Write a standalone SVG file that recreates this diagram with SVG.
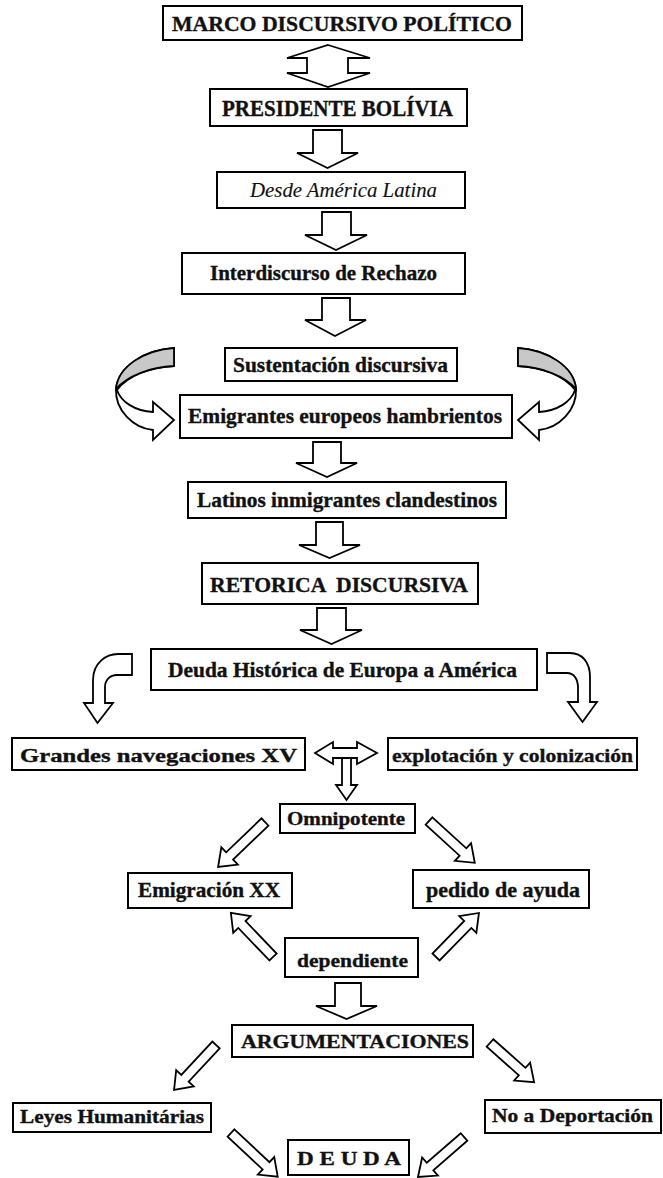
<svg xmlns="http://www.w3.org/2000/svg" width="663" height="1178" viewBox="0 0 663 1178">
<style>
.box{fill:#fff;stroke:#000;stroke-width:2}
.arr{fill:#fff;stroke:#000;stroke-width:1.8;stroke-linejoin:miter}
.gray{fill:#c8c8c8;stroke:#000;stroke-width:1.8}
text{font-family:"Liberation Serif","Times New Roman",serif;font-weight:bold;fill:#111;stroke:#111;stroke-width:0.35;text-anchor:middle}
.it{font-style:italic;font-weight:normal;stroke-width:0.1}
</style>
<rect width="663" height="1178" fill="#fff"/>
<g id="connectors">
<path class="arr" d="M328,45 L370,58 H348 V73 H370 L328,87 L287,73 H307 V58 H287 Z"/>
<path class="arr" d="M313,130 H342 V153 H358 L327.5,168 L297,153 H313 Z"/>
<path class="arr" d="M322,212 H351 V235 H367 L336,250 L305,235 H322 Z"/>
<path class="arr" d="M322,298 H350 V320 H366 L335,336 L305,320 H322 Z"/>
<g id="curve-left">
<path class="arr" d="M174,348 C145,350 118,366 116,389 C115,410 133,428 153,430 L153,440 L174,420 L153,402 L153,412 C135,411 121,402 117,390 C127,376 150,367 174,366 Z"/>
<path class="gray" d="M174,348 C145,350 118,366 116,389 C127,376 150,367 174,366 Z"/>
</g>
<g id="curve-right" transform="translate(692,0) scale(-1,1)">
<path class="arr" d="M174,348 C145,350 118,366 116,389 C115,410 133,428 153,430 L153,440 L174,420 L153,402 L153,412 C135,411 121,402 117,390 C127,376 150,367 174,366 Z"/>
<path class="gray" d="M174,348 C145,350 118,366 116,389 C127,376 150,367 174,366 Z"/>
</g>
<path class="arr" d="M313,442 H341 V463 H357 L327,477 L296,463 H313 Z"/>
<path class="arr" d="M316,522 H343 V545 H360 L329.5,558 L299,545 H316 Z"/>
<path class="arr" d="M317,608 H346 V630 H362 L331.5,644 L300,630 H317 Z"/>
<path class="arr" d="M132,654 L118,654 C106,654 93,663 93,680 L93,703 L84,703 L97.5,723 L113,703 L105,703 L105,687 C105,680 110,675 117,675 L132,675 Z"/>
<path class="arr" d="M547,653 L570,653 C582,653 590,662 590,677 L590,702 L597,702 L582.5,722 L568,702 L578,702 L578,688 C578,679 574,673 567,673 L547,673 Z"/>
<path class="arr" d="M342,756 H351 V785 H357 L346.5,800 L336,785 H342 Z"/>
<path class="arr" d="M315,753 L333,742 V748 H357 V742 L377,753 L357,764 V758 H333 V764 Z"/>
<path class="arr" transform="translate(265,822) rotate(136.2)" d="M0,-5 H49 V-12 L65,0 L49,12 V5 H0 Z"/>
<path class="arr" transform="translate(429,821) rotate(42.4)" d="M0,-5 H46 V-12 L62,0 L46,12 V5 H0 Z"/>
<path class="arr" transform="translate(273,957) rotate(-133.7)" d="M0,-5 H45 V-12 L61,0 L45,12 V5 H0 Z"/>
<path class="arr" transform="translate(436,957) rotate(-45.7)" d="M0,-5 H45.5 V-12 L61.5,0 L45.5,12 V5 H0 Z"/>
<path class="arr" d="M335,983 H361 V1006 H377 L346.5,1019 L316,1006 H335 Z"/>
<path class="arr" transform="translate(216,1045) rotate(133)" d="M0,-5 H45.5 V-12 L61.5,0 L45.5,12 V5 H0 Z"/>
<path class="arr" transform="translate(490,1043) rotate(41.6)" d="M0,-5 H43 V-12 L59,0 L43,12 V5 H0 Z"/>
<path class="arr" transform="translate(231,1133) rotate(43.1)" d="M0,-5 H48 V-12 L64,0 L48,12 V5 H0 Z"/>
<path class="arr" transform="translate(464,1137) rotate(139)" d="M0,-5 H45 V-12 L61,0 L45,12 V5 H0 Z"/>
</g>
<g id="n-marco"><rect class="box" x="163" y="6" width="359" height="34"/><text x="342" y="31" font-size="22" textLength="340" lengthAdjust="spacingAndGlyphs">MARCO DISCURSIVO POLÍTICO</text></g>
<g id="n-presidente"><rect class="box" x="210" y="89" width="257" height="37"/><text x="337.5" y="115.5" font-size="22.5" textLength="231" lengthAdjust="spacingAndGlyphs">PRESIDENTE BOLÍVIA</text></g>
<g id="n-desde"><rect class="box" x="217" y="172" width="248" height="36"/><text class="it" x="343.5" y="197" font-size="20" textLength="187" lengthAdjust="spacingAndGlyphs">Desde América Latina</text></g>
<g id="n-interdiscurso"><rect class="box" x="182" y="253" width="283" height="41"/><text x="323.5" y="280" font-size="21" textLength="227" lengthAdjust="spacingAndGlyphs">Interdiscurso de Rechazo</text></g>
<g id="n-sustentacion"><rect class="box" x="225" y="348" width="232" height="33"/><text x="340.5" y="372" font-size="21" textLength="215" lengthAdjust="spacingAndGlyphs">Sustentación discursiva</text></g>
<g id="n-emigrantes"><rect class="box" x="180" y="395" width="332" height="43"/><text x="345" y="423" font-size="22" textLength="314" lengthAdjust="spacingAndGlyphs">Emigrantes europeos hambrientos</text></g>
<g id="n-latinos"><rect class="box" x="188" y="482" width="318" height="36"/><text x="347" y="507" font-size="21" textLength="300" lengthAdjust="spacingAndGlyphs">Latinos inmigrantes clandestinos</text></g>
<g id="n-retorica"><rect class="box" x="202" y="563" width="276" height="41"/><text x="339" y="592" font-size="22" textLength="258" lengthAdjust="spacingAndGlyphs" xml:space="preserve">RETORICA  DISCURSIVA</text></g>
<g id="n-deuda-historica"><rect class="box" x="151" y="649" width="386" height="41"/><text x="342.5" y="677" font-size="20" textLength="349" lengthAdjust="spacingAndGlyphs">Deuda Histórica de Europa a América</text></g>
<g id="n-grandes"><rect class="box" x="12" y="738" width="293" height="32"/><text x="158.5" y="762" font-size="19" textLength="277" lengthAdjust="spacingAndGlyphs">Grandes navegaciones XV</text></g>
<g id="n-explotacion"><rect class="box" x="388" y="738" width="249" height="32"/><text x="512.5" y="762" font-size="19" textLength="241" lengthAdjust="spacingAndGlyphs">explotación y colonización</text></g>
<g id="n-omnipotente"><rect class="box" x="280" y="804" width="135" height="29"/><text x="346" y="825" font-size="19" textLength="118" lengthAdjust="spacingAndGlyphs">Omnipotente</text></g>
<g id="n-emigracion"><rect class="box" x="128" y="873" width="164" height="35"/><text x="209" y="897" font-size="20" textLength="142" lengthAdjust="spacingAndGlyphs">Emigración XX</text></g>
<g id="n-pedido"><rect class="box" x="413" y="870" width="176" height="38"/><text x="503" y="897" font-size="20" textLength="154" lengthAdjust="spacingAndGlyphs">pedido de ayuda</text></g>
<g id="n-dependiente"><rect class="box" x="285" y="938" width="133" height="39"/><text x="352.5" y="967" font-size="19.5" textLength="111" lengthAdjust="spacingAndGlyphs">dependiente</text></g>
<g id="n-argumentaciones"><rect class="box" x="232" y="1025" width="241" height="32"/><text x="355" y="1048" font-size="19.5" textLength="228" lengthAdjust="spacingAndGlyphs">ARGUMENTACIONES</text></g>
<g id="n-leyes"><rect class="box" x="13" y="1103" width="198" height="29"/><text x="112" y="1123" font-size="19" textLength="184" lengthAdjust="spacingAndGlyphs">Leyes Humanitárias</text></g>
<g id="n-noa"><rect class="box" x="485" y="1100" width="176" height="33"/><text x="572.5" y="1122" font-size="19" textLength="161" lengthAdjust="spacingAndGlyphs">No a Deportación</text></g>
<g id="n-deuda"><rect class="box" x="288" y="1140" width="121" height="35"/><text x="349" y="1165" font-size="19" textLength="104" lengthAdjust="spacingAndGlyphs">D E U D A</text></g>
</svg>
